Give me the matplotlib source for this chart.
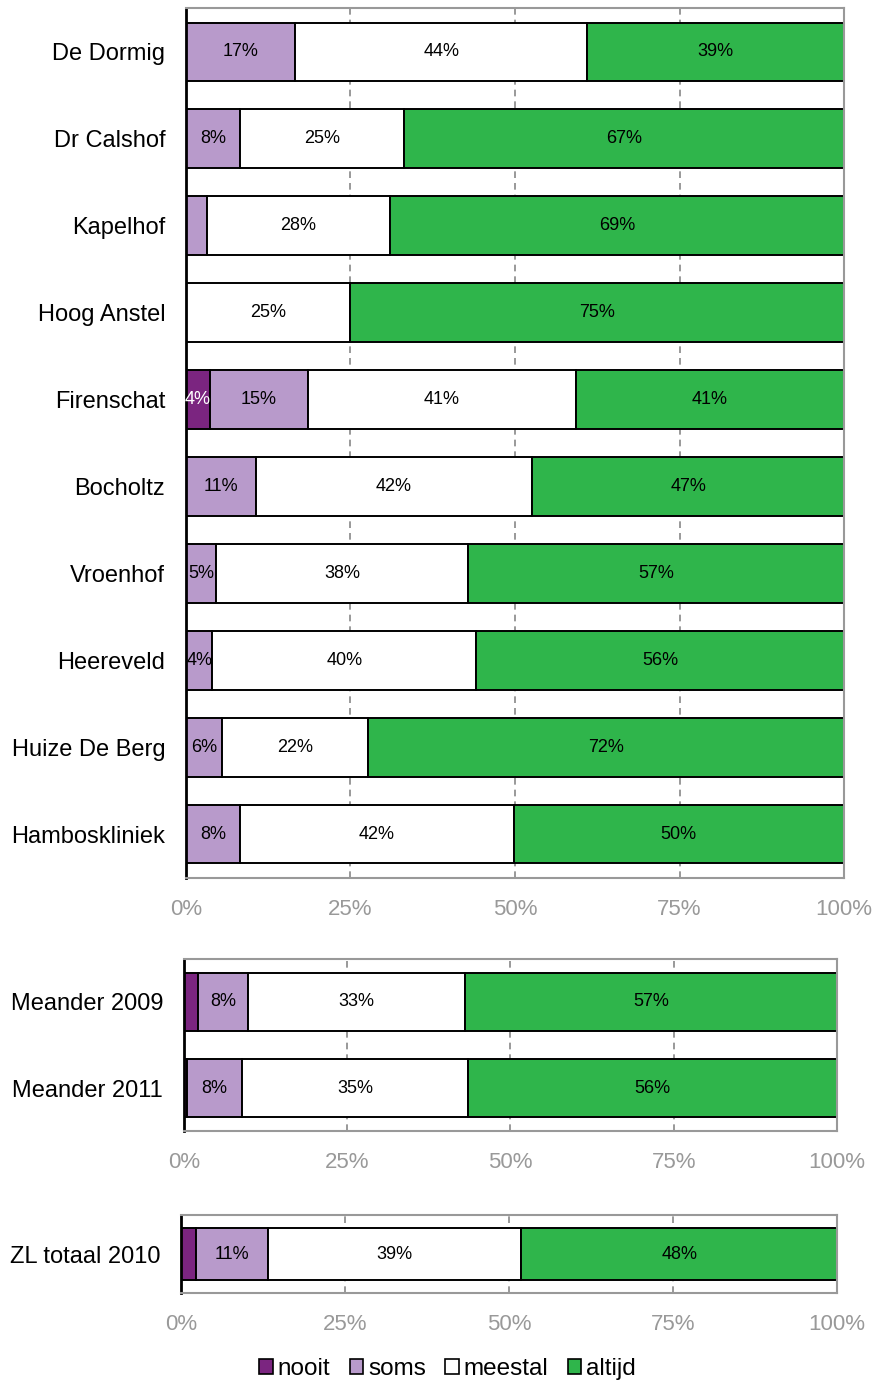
import matplotlib
matplotlib.use('Agg')
import matplotlib.pyplot as plt
from matplotlib.patches import Patch

plt.rcParams['font.family'] = ['Liberation Sans', 'DejaVu Sans']

# data (percentages)
locaties = ["De Dormig", "Dr Calshof", "Kapelhof", "Hoog Anstel", "Firenschat",
            "Bocholtz", "Vroenhof", "Heereveld", "Huize De Berg", "Hamboskliniek"]
nooit = [0, 0, 0, 0, 3.6, 0, 0, 0, 0, 0]
soms = [16.6, 8.2, 3.2, 0, 14.9, 10.6, 4.6, 4.0, 5.5, 8.2]
meestal = [44.4, 24.9, 27.8, 24.9, 40.8, 42.0, 38.3, 40.1, 22.2, 41.6]
altijd = [39.0, 66.9, 69.0, 75.1, 40.7, 47.4, 57.1, 55.9, 72.3, 50.2]

meander = ["Meander 2009", "Meander 2011"]
meander_nooit = [2.1, 0.5]
meander_soms = [7.7, 8.4]
meander_meestal = [33.2, 34.6]
meander_altijd = [57.0, 56.5]

zl = ["ZL totaal 2010"]
zl_nooit = [2.3]
zl_soms = [11.0]
zl_meestal = [38.6]
zl_altijd = [48.2]

kleuren = {"nooit": "#7B2580", "soms": "#B89ACB", "meestal": "#FFFFFF", "altijd": "#2FB54B"}
ticks = [0, 25, 50, 75, 100]
ticklabels = ["0%", "25%", "50%", "75%", "100%"]


def panel(ax, namen, reeksen):
    ax.set_xlim(0, 100)
    ax.set_ylim(len(namen) - 0.5, -0.5)
    for x in [25, 50, 75]:
        ax.axvline(x, color="#888888", linestyle=(0, (4, 3)), linewidth=1.2, zorder=0)
    links = [0] * len(namen)
    for naam, waarden in reeksen:
        ax.barh(range(len(namen)), waarden, left=links, height=0.667,
                color=kleuren[naam], edgecolor="black", linewidth=1.4, zorder=2)
        for i, v in enumerate(waarden):
            if v >= 3.5:
                kl = "white" if naam == "nooit" else "black"
                ax.text(links[i] + v / 2, i, "%d%%" % round(v), ha="center",
                        va="center", fontsize=13, color=kl, zorder=3)
        links = [a + b for a, b in zip(links, waarden)]
    ax.set_yticks(range(len(namen)))
    ax.set_yticklabels(namen, fontsize=17)
    ax.set_xticks(ticks)
    ax.set_xticklabels(ticklabels, fontsize=16, color="#999999")
    ax.tick_params(axis="both", length=0)
    ax.tick_params(axis="x", pad=15)
    ax.tick_params(axis="y", pad=15)
    for s in ["top", "right", "bottom"]:
        ax.spines[s].set_color("#999999")
        ax.spines[s].set_linewidth(1.5)
    ax.spines["left"].set_color("black")
    ax.spines["left"].set_linewidth(2)


fig = plt.figure(figsize=(8.74, 13.82), dpi=100)
ax1 = fig.add_axes([0.2128, 0.3647, 0.7529, 0.6295])
ax2 = fig.add_axes([0.2105, 0.1816, 0.7471, 0.1245])
ax3 = fig.add_axes([0.2071, 0.0644, 0.7506, 0.0564])

panel(ax1, locaties, [("nooit", nooit), ("soms", soms), ("meestal", meestal), ("altijd", altijd)])
panel(ax2, meander, [("nooit", meander_nooit), ("soms", meander_soms),
                     ("meestal", meander_meestal), ("altijd", meander_altijd)])
panel(ax3, zl, [("nooit", zl_nooit), ("soms", zl_soms), ("meestal", zl_meestal), ("altijd", zl_altijd)])

handles = [Patch(facecolor=kleuren[k], edgecolor="black", linewidth=1.2, label=k)
           for k in ["nooit", "soms", "meestal", "altijd"]]
fig.legend(handles=handles, loc="center", bbox_to_anchor=(0.512, 0.0095), ncol=4,
           frameon=False, fontsize=17.5, handlelength=0.55, handleheight=0.55,
           handletextpad=0.2, columnspacing=0.8)

fig.savefig("out.png", dpi=100)
